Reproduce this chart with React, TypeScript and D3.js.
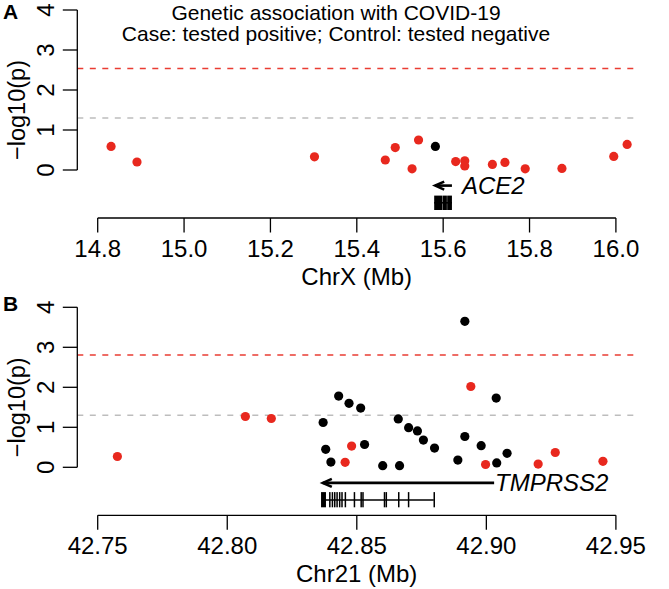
import React from "react";
import * as d3 from "d3";

// ---------- data ----------
// Panel A: ChrX (Mb)
const aPos = [14.831, 14.891, 15.302, 15.466, 15.489, 15.528, 15.543, 15.582, 15.629, 15.650, 15.650, 15.714, 15.743, 15.790, 15.875, 15.995, 16.026];
const aLogP = [0.59, 0.20, 0.33, 0.25, 0.56, 0.03, 0.75, 0.59, 0.21, 0.23, 0.10, 0.14, 0.19, 0.03, 0.04, 0.34, 0.64];
const aRed = [1, 1, 1, 1, 1, 1, 1, 0, 1, 1, 1, 1, 1, 1, 1, 1, 1];
const aTicks = [14.8, 15.0, 15.2, 15.4, 15.6, 15.8, 16.0];
const aThreshold = 2.54;

// Panel B: Chr21 (Mb)
const bPos = [42.7576, 42.807, 42.817, 42.837, 42.838, 42.840, 42.843, 42.8455, 42.847, 42.848, 42.8515, 42.853, 42.860, 42.866, 42.8665, 42.870, 42.8734, 42.8757, 42.880, 42.889, 42.8917, 42.8917, 42.894, 42.898, 42.8997, 42.9038, 42.904, 42.908, 42.920, 42.9266, 42.945];
const bLogP = [0.27, 1.27, 1.22, 1.12, 0.45, 0.13, 1.78, 0.125, 1.6, 0.53, 1.48, 0.57, 0.04, 1.21, 0.04, 0.99, 0.91, 0.68, 0.48, 0.18, 3.65, 0.77, 2.02, 0.54, 0.07, 1.73, 0.11, 0.35, 0.08, 0.37, 0.15];
const bRed = [1, 1, 1, 0, 0, 0, 0, 1, 0, 1, 0, 0, 0, 0, 0, 0, 0, 0, 0, 0, 0, 0, 1, 0, 1, 0, 0, 0, 1, 1, 1];
const bTicks = [42.75, 42.8, 42.85, 42.9, 42.95];
const bThreshold = 2.81;

const nominalThreshold = 1.30;
const yTicks = [0, 1, 2, 3, 4];

// genes
const ace2Start = 15.5792;
const ace2End = 15.6203;
const ace2ExonStarts = [15.5792, 15.5995, 15.6093];
const ace2ExonEnds = [15.5986, 15.6086, 15.6203];

const tmprssStart = 42.8365;
const tmprssEnd = 42.9030;
const tmprssTxEnd = 42.8797;
const tmprssExonStarts = [42.8362, 42.8393, 42.8403, 42.8412, 42.8421, 42.8431, 42.8440, 42.8453, 42.8488, 42.8514, 42.8521, 42.8604, 42.8611, 42.8659, 42.8697, 42.8796];
const tmprssExonEnds =   [42.8381, 42.8395, 42.8405, 42.8414, 42.8423, 42.8433, 42.8442, 42.8455, 42.8490, 42.8516, 42.8523, 42.8606, 42.8613, 42.8661, 42.8699, 42.8798];

const RED = "#e8281e";
const FONT = "'Liberation Sans', Arial, Helvetica, sans-serif";

type PanelProps = {
  letter: string;
  letterY: number;
  pos: number[];
  logp: number[];
  red: number[];
  ticks: number[];
  tickFmt: (v: number) => string;
  domain: [number, number];
  top: number; // y pixel of value 4
  threshold: number;
  xlab: string;
  gene: (x: any, y: any) => React.ReactNode;
};

function Panel(p: PanelProps) {
  const x = d3.scaleLinear().domain(p.domain).range([97.7, 615.9]);
  const y = d3.scaleLinear().domain([0, 4]).range([p.top + 160, p.top]);
  const regionL = 77.3;
  const regionR = 636;
  const axisY = y(-1.2);
  const midY = (y(4.2) + y(-1.2)) / 2;
  const midX = (regionL + regionR) / 2;
  return (
    <g>
      <text x={3} y={p.letterY} fontFamily={FONT} fontWeight="bold" fontSize={21}>{p.letter}</text>
      {/* threshold lines */}
      <line x1={regionL} x2={regionR} y1={y(p.threshold)} y2={y(p.threshold)} stroke={RED} strokeWidth={1.5} strokeDasharray="6 6.5" opacity={0.9} />
      <line x1={regionL} x2={regionR} y1={y(nominalThreshold)} y2={y(nominalThreshold)} stroke="#bdbdbd" strokeWidth={1.5} strokeDasharray="6 6.5" />
      {/* y axis */}
      <line x1={regionL} x2={regionL} y1={y(0)} y2={y(4)} stroke="#000" strokeWidth={1.3} />
      {yTicks.map((t) => (
        <g key={t}>
          <line x1={regionL - 14.5} x2={regionL} y1={y(t)} y2={y(t)} stroke="#000" strokeWidth={1.3} />
          <text transform={`translate(54,${y(t)}) rotate(-90)`} textAnchor="middle" fontFamily={FONT} fontSize={24}>{t}</text>
        </g>
      ))}
      <text transform={`translate(25,${midY}) rotate(-90)`} textAnchor="middle" fontFamily={FONT} fontSize={23.5}>{"\u2212log10(p)"}</text>
      {/* x axis */}
      <line x1={x(p.ticks[0])} x2={x(p.ticks[p.ticks.length - 1])} y1={axisY} y2={axisY} stroke="#000" strokeWidth={1.3} />
      {p.ticks.map((t) => (
        <g key={t}>
          <line x1={x(t)} x2={x(t)} y1={axisY} y2={axisY + 14.5} stroke="#000" strokeWidth={1.3} />
          <text x={x(t)} y={axisY + 38.5} textAnchor="middle" fontFamily={FONT} fontSize={24}>{p.tickFmt(t)}</text>
        </g>
      ))}
      <text x={midX} y={axisY + 67} textAnchor="middle" fontFamily={FONT} fontSize={24}>{p.xlab}</text>
      {/* gene */}
      {p.gene(x, y)}
      {/* points */}
      {p.pos.map((v, i) => (
        <circle key={i} cx={x(v)} cy={y(p.logp[i])} r={4.6} fill={p.red[i] ? RED : "#000"} />
      ))}
    </g>
  );
}

function Arrow({ x1, x0, yy }: { x1: number; x0: number; yy: number }) {
  return (
    <g stroke="#000" strokeWidth={2.6} fill="none">
      <line x1={x1} x2={x0 + 1} y1={yy} y2={yy} />
      <path d={`M${x0 + 10},${yy - 4} L${x0 + 1},${yy} L${x0 + 10},${yy + 4}`} />
    </g>
  );
}

export default function App() {
  return (
    <svg width={669} height={589} style={{ position: "absolute", left: 0, top: 0, background: "#fff" }}>
      <rect width={669} height={589} fill="#fff" />
      <text x={336} y={19.5} textAnchor="middle" fontFamily={FONT} fontSize={21}>Genetic association with COVID-19</text>
      <text x={336} y={40.7} textAnchor="middle" fontFamily={FONT} fontSize={21}>Case: tested positive; Control: tested negative</text>
      <Panel
        letter="A"
        letterY={18.5}
        pos={aPos}
        logp={aLogP}
        red={aRed}
        ticks={aTicks}
        tickFmt={(v) => v.toFixed(1)}
        domain={[14.8, 16.0]}
        top={10}
        threshold={aThreshold}
        xlab="ChrX (Mb)"
        gene={(x: any, y: any) => (
          <g>
            <Arrow x1={x(ace2End)} x0={x(ace2Start)} yy={y(-0.39)} />
            <text x={x(ace2End) + 10} y={y(-0.39) + 8} fontFamily={FONT} fontStyle="italic" fontSize={24}>ACE2</text>
            <line x1={x(ace2Start)} x2={x(ace2End)} y1={y(-0.82)} y2={y(-0.82)} stroke="#000" strokeWidth={1.5} />
            {ace2ExonStarts.map((s, i) => (
              <rect key={i} x={x(s)} y={y(-0.64)} width={Math.max(1.6, x(ace2ExonEnds[i]) - x(s))} height={y(-1.0) - y(-0.64)} fill="#000" />
            ))}
          </g>
        )}
      />
      <Panel
        letter="B"
        letterY={311}
        pos={bPos}
        logp={bLogP}
        red={bRed}
        ticks={bTicks}
        tickFmt={(v) => v.toFixed(2)}
        domain={[42.75, 42.95]}
        top={307.3}
        threshold={bThreshold}
        xlab="Chr21 (Mb)"
        gene={(x: any, y: any) => (
          <g>
            <Arrow x1={x(tmprssEnd)} x0={x(tmprssStart)} yy={y(-0.39)} />
            <text x={x(tmprssEnd) + 1} y={y(-0.39) + 8.5} fontFamily={FONT} fontStyle="italic" fontSize={24}>TMPRSS2</text>
            <line x1={x(tmprssStart)} x2={x(tmprssTxEnd)} y1={y(-0.82)} y2={y(-0.82)} stroke="#000" strokeWidth={1.5} />
            {tmprssExonStarts.map((s, i) => (
              <rect key={i} x={x(s)} y={y(-0.62)} width={Math.max(1.5, x(tmprssExonEnds[i]) - x(s))} height={y(-1.0) - y(-0.62)} fill="#000" />
            ))}
          </g>
        )}
      />
    </svg>
  );
}
